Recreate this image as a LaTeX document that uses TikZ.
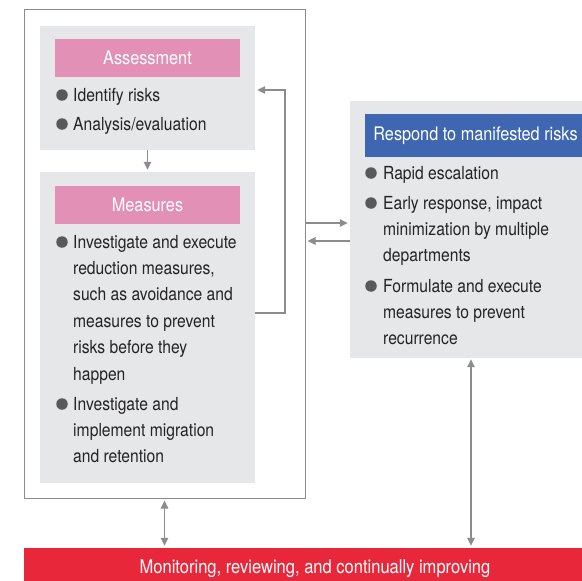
\documentclass[tikz,border=0pt]{standalone}
\usepackage{fontspec}
\setmainfont{TeX Gyre Heros}[FakeStretch=0.87]
\usepackage{tikz}
\usetikzlibrary{arrows.meta}
\definecolor{panelgray}{HTML}{E6E7E9}
\definecolor{linegray}{HTML}{8C8C8E}
\definecolor{rosepink}{HTML}{E290B6}
\definecolor{stepblue}{HTML}{3F67B1}
\definecolor{alertred}{HTML}{E8283A}
\definecolor{dotgray}{HTML}{58595B}
\definecolor{inkgray}{HTML}{262324}

\begin{document}
\begin{tikzpicture}[
    x=1pt, y=-1pt,
    every node/.style={font=\fontsize{18}{22}\selectfont, text=inkgray},
    panel/.style={rectangle, fill=panelgray, inner sep=0pt},
    header/.style={rectangle, inner sep=0pt, minimum height=38pt, text=white, font=\fontsize{18.7}{22}\selectfont},
    itemtext/.style={anchor=base west, inner sep=0pt},
    dot/.style={circle, fill=dotgray, inner sep=0pt, minimum size=11.5pt},
    arr/.style={draw=linegray, line width=1.5pt, -{Triangle[length=8pt,width=7.5pt]}},
    darr/.style={arr, {Triangle[length=8pt,width=7.5pt]}-{Triangle[length=8pt,width=7.5pt]}},
]
% Scale: 1 unit = 1pt, y grows downwards
\useasboundingbox (0,0) rectangle (582,581);
% Frame around assessment + measures
\node[draw=linegray, line width=1pt, fill=white, inner sep=0pt, minimum width=281pt, minimum height=489pt] (outer) at (164.5,253.5) {};
% Assessment (pink)
\node[panel, minimum width=215pt, minimum height=124pt] (assess) at (147.5,88) {};
\node[header, fill=rosepink, minimum width=185pt] (assessHead) at (147.5,58) {Assessment};
\node[dot] (a1dot) at (62,95) {}; \node[itemtext] (a1) at (73,101) {Identify risks};
\node[dot] (a2dot) at (62,124) {}; \node[itemtext] (a2) at (73,130) {Analysis/evaluation};
% Measures (pink)
\node[panel, minimum width=215pt, minimum height=311pt] (meas) at (147.5,327.5) {};
\node[header, fill=rosepink, minimum width=185pt] (measHead) at (147.5,205) {Measures};
\node[dot] (m1dot) at (62,242) {}; \node[itemtext] (m1) at (73,248) {Investigate and execute};
\node[itemtext] (m2) at (73,274) {reduction measures,};
\node[itemtext] (m3) at (73,300) {such as avoidance and};
\node[itemtext] (m4) at (73,327) {measures to prevent};
\node[itemtext] (m5) at (73,353) {risks before they};
\node[itemtext] (m6) at (73,380) {happen};
\node[dot] (m7dot) at (62,404) {}; \node[itemtext] (m7) at (73,410) {Investigate and};
\node[itemtext] (m8) at (73,436) {implement migration};
\node[itemtext] (m9) at (73,462) {and retention};
% Respond (blue)
\node[panel, minimum width=242pt, minimum height=257pt] (respond) at (471,229.5) {};
\node[header, fill=stepblue, minimum width=221pt, minimum height=43pt] (respHead) at (475.5,135.5) {Respond to manifested risks};
\node[dot] (r1dot) at (371,173) {}; \node[itemtext] (r1) at (383,179) {Rapid escalation};
\node[dot] (r2dot) at (371,203) {}; \node[itemtext] (r2) at (383,209) {Early response, impact};
\node[itemtext] (r3) at (383,235) {minimization by multiple};
\node[itemtext] (r4) at (383,261) {departments};
\node[dot] (r5dot) at (371,286) {}; \node[itemtext] (r5) at (383,292) {Formulate and execute};
\node[itemtext] (r6) at (383,318) {measures to prevent};
\node[itemtext] (r7) at (383,344) {recurrence};
% Monitoring bar (red)
\node[rectangle, fill=alertred, inner sep=0pt, minimum width=582pt, minimum height=42pt, text=white, font=\fontsize{19}{22}\selectfont] (bar) at (315,569) {Monitoring, reviewing, and continually improving};
% Connectors
\coordinate (fbout) at (meas.east |- 0,313);
\coordinate (fbin) at (assess.east |- 0,90);
\draw[arr, shorten >=2pt] (assess.south) -- (meas.north);
\draw[arr, shorten >=2pt] (fbout) -- ++(30,0) |- (fbin);
\draw[arr, shorten >=2pt] (outer.east |- 0,223) -- (respond.west |- 0,223);
\draw[arr, shorten >=2pt] (respond.west |- 0,241) -- (outer.east |- 0,241);
\draw[darr, shorten <=2pt, shorten >=2pt] (outer.south) -- (outer.south |- bar.north);
\draw[darr, shorten <=1pt, shorten >=2pt] (respond.south) -- (respond.south |- bar.north);
\end{tikzpicture}
\end{document}
